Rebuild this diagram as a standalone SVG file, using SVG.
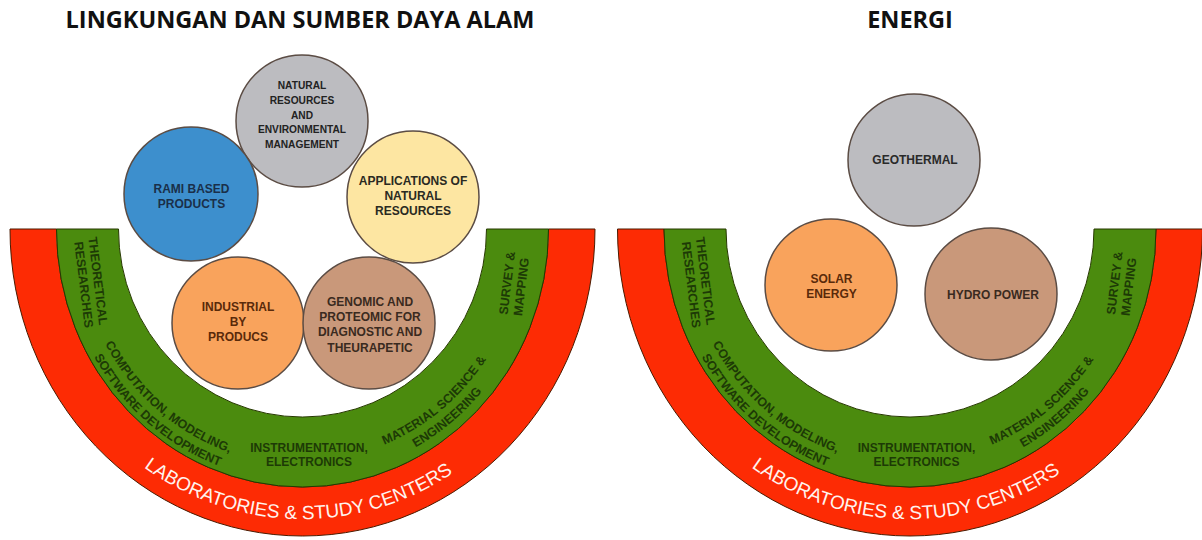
<svg xmlns="http://www.w3.org/2000/svg" width="1202" height="540" viewBox="0 0 1202 540">
<style>
.title{font-family:"Open Sans","Liberation Sans",sans-serif;font-weight:700;font-size:23.5px;fill:#111;text-anchor:middle}
.red{fill:#fd2b04;stroke:#4a1a00;stroke-width:1}
.green{fill:#4b8b0e;stroke:#263800;stroke-width:1}
.gt{font-family:"Liberation Sans",Arial,sans-serif;font-weight:700;font-size:12.5px;fill:#1d3a06}
.wt{font-family:"Liberation Sans",Arial,sans-serif;font-size:19px;fill:#fff3ee}
.node{stroke:#5b4c44;stroke-width:1.5}
.nt{font-family:"Liberation Sans",Arial,sans-serif;font-weight:700;font-size:12px;text-anchor:middle}
.gray{fill:#bcbcc0}.blue{fill:#3d8fcd}.yellow{fill:#fde6a2}.orange{fill:#f9a35c}.brown{fill:#c9987a}
</style>
<defs>
<path id="p-comp1" d="M80.3,272 A226,236.2 0 0 0 304.5,465.2"/>
<path id="p-comp2" d="M65,275 A241.5,252.4 0 0 0 304.6,481.4"/>
<path id="p-mat1" d="M295.9,460.9 A222,232 0 0 0 519.9,276.05"/>
<path id="p-mat2" d="M295.45,477.1 A237.5,248.2 0 0 0 535.1,279.3"/>
<path id="p-lab" d="M27.9,274.4 A278,290 0 0 0 575.4,284.3"/>
</defs>

<text id="title-left" class="title" x="300" y="28">LINGKUNGAN DAN SUMBER DAYA ALAM</text>
<text id="title-right" class="title" x="910" y="28">ENERGI</text>

<g id="bands-left">
<path class="red" d="M10,229 A292.5,307 0 0 0 595,229 L548.5,229 A246,258 0 0 1 56.5,229 Z"/>
<path class="green" d="M56.5,229 A246,258 0 0 0 548.5,229 L486.5,229 A184,188 0 0 1 118.5,229 Z"/>
<text class="gt" text-anchor="middle" transform="translate(93.7,281.5) rotate(83)"><tspan x="0" y="0">THEORETICAL</tspan><tspan x="2" y="14.5">RESEARCHES</tspan></text>
<text class="gt"><textPath href="#p-comp1" startOffset="50%" text-anchor="middle">COMPUTATION, MODELING,</textPath></text>
<text class="gt"><textPath href="#p-comp2" startOffset="50%" text-anchor="middle">SOFTWARE DEVELOPMENT</textPath></text>
<text class="gt" text-anchor="middle" style="font-size:12px"><tspan x="309" y="451.5">INSTRUMENTATION,</tspan><tspan x="309" y="466">ELECTRONICS</tspan></text>
<text class="gt"><textPath href="#p-mat1" startOffset="50%" text-anchor="middle">MATERIAL SCIENCE &amp;</textPath></text>
<text class="gt"><textPath href="#p-mat2" startOffset="50%" text-anchor="middle">ENGINEERING</textPath></text>
<text class="gt" text-anchor="middle" transform="translate(511.3,283.5) rotate(-83)"><tspan x="0" y="0">SURVEY &amp;</tspan><tspan x="-2" y="14.5">MAPPING</tspan></text>
<text class="wt"><textPath href="#p-lab" startOffset="50%" text-anchor="middle">LABORATORIES &amp; STUDY CENTERS</textPath></text>
</g>

<g id="bands-right" transform="translate(607.5,0)">
<path class="red" d="M10,229 A292.5,307 0 0 0 595,229 L548.5,229 A246,258 0 0 1 56.5,229 Z"/>
<path class="green" d="M56.5,229 A246,258 0 0 0 548.5,229 L486.5,229 A184,188 0 0 1 118.5,229 Z"/>
<text class="gt" text-anchor="middle" transform="translate(93.7,281.5) rotate(83)"><tspan x="0" y="0">THEORETICAL</tspan><tspan x="2" y="14.5">RESEARCHES</tspan></text>
<text class="gt"><textPath href="#p-comp1" startOffset="50%" text-anchor="middle">COMPUTATION, MODELING,</textPath></text>
<text class="gt"><textPath href="#p-comp2" startOffset="50%" text-anchor="middle">SOFTWARE DEVELOPMENT</textPath></text>
<text class="gt" text-anchor="middle" style="font-size:12px"><tspan x="309" y="451.5">INSTRUMENTATION,</tspan><tspan x="309" y="466">ELECTRONICS</tspan></text>
<text class="gt"><textPath href="#p-mat1" startOffset="50%" text-anchor="middle">MATERIAL SCIENCE &amp;</textPath></text>
<text class="gt"><textPath href="#p-mat2" startOffset="50%" text-anchor="middle">ENGINEERING</textPath></text>
<text class="gt" text-anchor="middle" transform="translate(511.3,283.5) rotate(-83)"><tspan x="0" y="0">SURVEY &amp;</tspan><tspan x="-2" y="14.5">MAPPING</tspan></text>
<text class="wt"><textPath href="#p-lab" startOffset="50%" text-anchor="middle">LABORATORIES &amp; STUDY CENTERS</textPath></text>
</g>

<g id="node-natural-resources">
<circle class="node gray" cx="302" cy="121" r="66"/>
<text class="nt" fill="#222" style="font-size:10.2px"><tspan x="302" y="89">NATURAL</tspan><tspan x="302" y="103.8">RESOURCES</tspan><tspan x="302" y="118.6">AND</tspan><tspan x="302" y="133.4">ENVIRONMENTAL</tspan><tspan x="302" y="148.2">MANAGEMENT</tspan></text>
</g>
<g id="node-rami">
<circle class="node blue" cx="191" cy="194" r="67"/>
<text class="nt" fill="#1a2f4a"><tspan x="191.5" y="192.7">RAMI BASED</tspan><tspan x="191.5" y="207.7">PRODUCTS</tspan></text>
</g>
<g id="node-applications">
<circle class="node yellow" cx="413" cy="197" r="66"/>
<text class="nt" fill="#2a2a22"><tspan x="413" y="184.5">APPLICATIONS OF</tspan><tspan x="413" y="199.5">NATURAL</tspan><tspan x="413" y="214.5">RESOURCES</tspan></text>
</g>
<g id="node-industrial">
<circle class="node orange" cx="238" cy="323" r="66"/>
<text class="nt" fill="#5a2a0a"><tspan x="238" y="311">INDUSTRIAL</tspan><tspan x="238" y="326">BY</tspan><tspan x="238" y="341">PRODUCS</tspan></text>
</g>
<g id="node-genomic">
<circle class="node brown" cx="369" cy="323" r="66"/>
<text class="nt" fill="#3a2a20"><tspan x="370" y="306">GENOMIC AND</tspan><tspan x="370" y="321">PROTEOMIC FOR</tspan><tspan x="370" y="336">DIAGNOSTIC AND</tspan><tspan x="370" y="351.5">THEURAPETIC</tspan></text>
</g>

<g id="node-geothermal">
<circle class="node gray" cx="914" cy="160" r="66"/>
<text class="nt" fill="#2a2a2a" x="915" y="164.4">GEOTHERMAL</text>
</g>
<g id="node-solar">
<circle class="node orange" cx="831" cy="285" r="66"/>
<text class="nt" fill="#5a2a0a"><tspan x="831.5" y="282.7">SOLAR</tspan><tspan x="831.5" y="297.7">ENERGY</tspan></text>
</g>
<g id="node-hydro">
<circle class="node brown" cx="991" cy="294" r="66"/>
<text class="nt" fill="#3a2a20" x="993" y="299.4">HYDRO POWER</text>
</g>
</svg>
